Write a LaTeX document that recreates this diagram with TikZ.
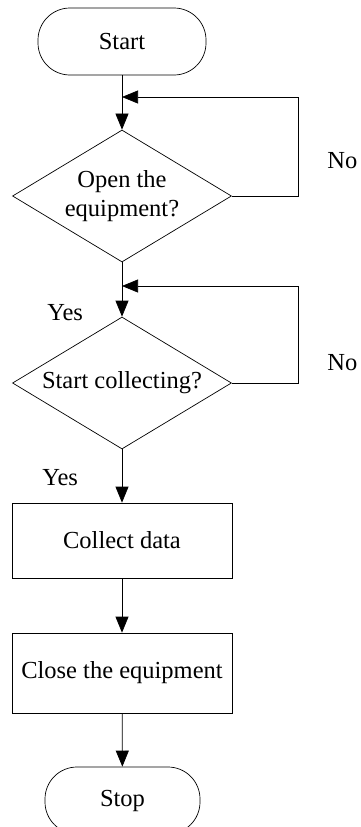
\documentclass[tikz,border=0pt]{standalone}
\usepackage{fontspec}
\setmainfont{Liberation Serif}
\usetikzlibrary{arrows.meta,shapes.geometric}

\begin{document}
\begin{tikzpicture}[x=1pt,y=-1pt,line width=0.7pt,>={Triangle[length=16pt,width=13pt]}]
\tikzstyle{every node}=[inner sep=0pt, font=\fontsize{24.5}{29.5}\selectfont]
\tikzstyle{term}=[draw, rounded corners=32pt, minimum width=168pt, minimum height=67pt]
\tikzstyle{dec}=[draw, diamond, aspect=1.66, minimum width=219pt, minimum height=132pt, align=center]
\tikzstyle{proc}=[draw, minimum width=220pt]
\useasboundingbox (0,0) rectangle (361,827);
\draw (122,41.5) node (v1) [term] {Start};
\draw (122,196) node (v2) [dec] {Open the\\equipment?};
\draw (122,383) node (v3) [dec] {Start collecting?};
\draw (122,540.5) node (v4) [proc,minimum height=75pt] {Collect data};
\draw (122,673) node (v5) [proc,minimum height=80pt] {Close the equipment};
\draw (122.5,800.5) node (v6) [term,minimum width=155pt] {Stop};
\draw (327,168) node (n1) [anchor=base west] {No};
\draw (327,370) node (n2) [anchor=base west] {No};
\draw (47,320) node (y1) [anchor=base west] {Yes};
\draw (42,485) node (y2) [anchor=base west] {Yes};
\coordinate (j1) at (122,97);
\coordinate (k1) at (298,97);
\coordinate (j2) at (122,286);
\coordinate (k2) at (298,286);
\draw[->] (v1) -- (v2);
\draw[->] (v2) -- (v3);
\draw[->] (v3) -- (v4);
\draw[->] (v4) -- (v5);
\draw[->] (v5) -- (v6);
\draw[->] (v2.east) -| (k1) -- (j1);
\draw[->] (v3.east) -| (k2) -- (j2);
\end{tikzpicture}
\end{document}
